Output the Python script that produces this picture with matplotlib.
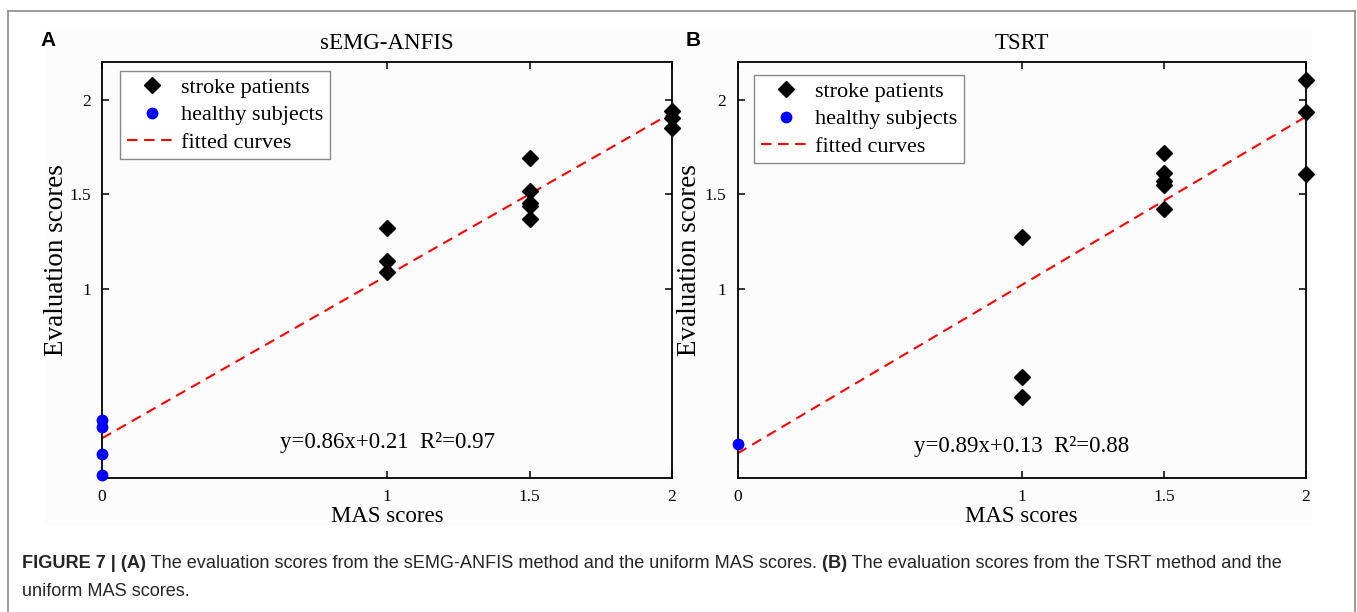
import numpy as np
import matplotlib.pyplot as plt
from matplotlib.lines import Line2D
from matplotlib.patches import Rectangle

# --- panel A: sEMG-ANFIS ---
a_stroke_x = [1, 1, 1, 1.5, 1.5, 1.5, 1.5, 1.5, 2, 2, 2]
a_stroke_y = [1.32, 1.145, 1.09, 1.69, 1.515, 1.455, 1.435, 1.37, 1.94, 1.90, 1.85]
a_healthy_x = [0, 0, 0, 0]
a_healthy_y = [0.305, 0.27, 0.126, 0.016]
a_slope, a_icpt = 0.86, 0.21
a_eq = "y=0.86x+0.21  R²=0.97"

# --- panel B: TSRT ---
b_stroke_x = [1, 1, 1, 1.5, 1.5, 1.5, 1.5, 1.5, 2, 2, 2]
b_stroke_y = [1.275, 0.535, 0.43, 1.72, 1.61, 1.57, 1.55, 1.42, 2.105, 1.935, 1.605]
b_healthy_x = [0]
b_healthy_y = [0.18]
b_slope, b_icpt = 0.89, 0.13
b_eq = "y=0.89x+0.13  R²=0.88"

x_ticks = [0, 1, 1.5, 2]
x_ticklabels = ['0', '1', '1.5', '2']
y_ticks = [1, 1.5, 2]
y_ticklabels = ['1', '1.5', '2']

SERIF = 'Liberation Serif'
SANS = 'Liberation Sans'
W, H = 1357, 612

fig = plt.figure(figsize=(W / 100, H / 100), dpi=100)
fig.patch.set_facecolor('white')

# light background of the embedded chart image and the outer frame
fig.add_artist(Rectangle((45 / W, 1 - 525 / H), (1312 - 45) / W, (525 - 30) / H,
                         transform=fig.transFigure, facecolor='#fcfcfc',
                         edgecolor='none', zorder=0))
frame_kw = dict(transform=fig.transFigure, color='#8a8a8a', lw=1.2)
fig.add_artist(Line2D([8 / W, 1355 / W], [1 - 11 / H, 1 - 11 / H], **frame_kw))
fig.add_artist(Line2D([8 / W, 8 / W], [1 - 11 / H, 0], **frame_kw))
fig.add_artist(Line2D([1355 / W, 1355 / W], [1 - 11 / H, 0], **frame_kw))


def panel(left, right, title, sx, sy, hx, hy, slope, icpt, eq, eq_y, leg_xy, ylab_x):
    bottom, top = 478, 61.7
    ax = fig.add_axes([left / W, 1 - bottom / H, (right - left) / W, (bottom - top) / H])
    ax.set_facecolor('none')
    xs = np.array([0, 2])
    ax.plot(xs, slope * xs + icpt, color='red', lw=1.5, dashes=(5, 3.2),
            label='fitted curves', zorder=2)
    ax.plot(sx, sy, 'D', color='black', ms=8, ls='none', label='stroke patients',
            clip_on=False, zorder=3)
    ax.plot(hx, hy, 'o', color='blue', ms=7.5, ls='none', label='healthy subjects',
            clip_on=False, zorder=3)
    ax.set_xlim(0, 2)
    ax.set_ylim(0, 2.2)
    ax.set_xticks(x_ticks)
    ax.set_xticklabels(x_ticklabels)
    ax.set_yticks(y_ticks)
    ax.set_yticklabels(y_ticklabels)
    ax.tick_params(direction='in', top=True, right=True, length=5, width=1.1,
                   labelsize=12.5, pad=8)
    for lab in ax.get_xticklabels() + ax.get_yticklabels():
        lab.set_family(SERIF)
    for sp in ax.spines.values():
        sp.set_linewidth(1.3)
    ax.set_title(title, family=SERIF, fontsize=16.5, pad=9)
    ax.set_xlabel('MAS scores', family=SERIF, fontsize=16.5, labelpad=1)
    ax.set_ylabel('Evaluation scores', family=SERIF, fontsize=19.5)
    ax.yaxis.set_label_coords(ylab_x, 0.523)
    ax.text(1, eq_y, eq, family=SERIF, fontsize=16.5, ha='center', va='center')

    h, l = ax.get_legend_handles_labels()
    order = [1, 2, 0]
    leg = ax.legend([h[i] for i in order], [l[i] for i in order], loc='upper left',
                    bbox_to_anchor=leg_xy, prop={'family': SERIF, 'size': 16},
                    frameon=True, fancybox=False, framealpha=1, edgecolor='#888888',
                    handlelength=2.25, handletextpad=0.2, labelspacing=0.3,
                    borderpad=0.3, borderaxespad=0)
    leg.get_frame().set_linewidth(1.0)
    return ax


axA = panel(102, 672, 'sEMG-ANFIS', a_stroke_x, a_stroke_y, a_healthy_x, a_healthy_y,
            a_slope, a_icpt, a_eq, 0.19, (0.032, 0.978), -0.058)
axB = panel(737.5, 1306, 'TSRT', b_stroke_x, b_stroke_y, b_healthy_x, b_healthy_y,
            b_slope, b_icpt, b_eq, 0.165, (0.029, 0.968), -0.062)

fig.text(48 / W, 1 - 40 / H, 'A', family=SANS, fontweight='bold', fontsize=15,
         ha='center', va='center')
fig.text(693 / W, 1 - 40 / H, 'B', family=SANS, fontweight='bold', fontsize=15,
         ha='center', va='center')

# caption with bold parts, pieces placed one after another
renderer = fig.canvas.get_renderer()


def caption_line(x, y, parts):
    for txt, bold in parts:
        t = fig.text(x, y, txt, family=SANS, fontsize=13.1, color='#262626',
                     fontweight='bold' if bold else 'normal', va='center', ha='left')
        x += t.get_window_extent(renderer=renderer).width / W


caption_line(22 / W, 1 - 563 / H, [
    ('FIGURE 7 | (A)', True),
    (' The evaluation scores from the sEMG-ANFIS method and the uniform MAS scores.', False),
    (' (B)', True),
    (' The evaluation scores from the TSRT method and the', False),
])
caption_line(22 / W, 1 - 591 / H, [('uniform MAS scores.', False)])

fig.savefig('out.png', dpi=100)
